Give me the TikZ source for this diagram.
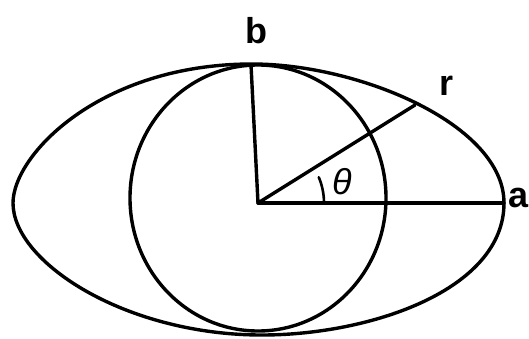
\documentclass[tikz,border=0pt]{standalone}
\usepackage{fontspec}
\setmainfont{Liberation Sans}
\begin{document}
\begin{tikzpicture}[x=1pt,y=-1pt,
  stroke/.style={line width=3.4pt, line cap=round, line join=round},
  lbl/.style={font=\fontsize{36}{40}\selectfont\bfseries, inner sep=0pt}]
\useasboundingbox (0,0) rectangle (529,338);
\coordinate (O) at (258,203);
\coordinate (A) at (504,203);
\coordinate (B) at (251,65);
\coordinate (R) at (415,105);
\coordinate (L) at (13,203);
\coordinate (T) at (252,64);
\coordinate (Bt) at (262,335);
% outer oval
\draw[stroke] (L) .. controls (13,155) and (100,64) .. (T)
  .. controls (360,64) and (504,125) .. (A)
  .. controls (504,290) and (370,335) .. (Bt)
  .. controls (125,335) and (13,262) .. (L) -- cycle;
% circle
\draw[stroke] (258,198) ellipse [x radius=128, y radius=133];
% radii
\draw[stroke] (O) -- (A);
\draw[stroke] (O) -- (B);
\draw[stroke] (O) -- (R);
% angle mark
\draw[stroke, line width=2.6pt] ([shift={(0:66)}]O) arc[start angle=0, end angle=-23, radius=66];
% labels
\node[lbl] (lb) at (256,31) {b};
\node[lbl] (lr) at (446,86) {r};
\node[lbl] (la) at (519,198) {a};
\node[font=\fontsize{36}{40}\selectfont\itshape, inner sep=0pt] (lt) at (342,182) {θ};
\end{tikzpicture}
\end{document}
